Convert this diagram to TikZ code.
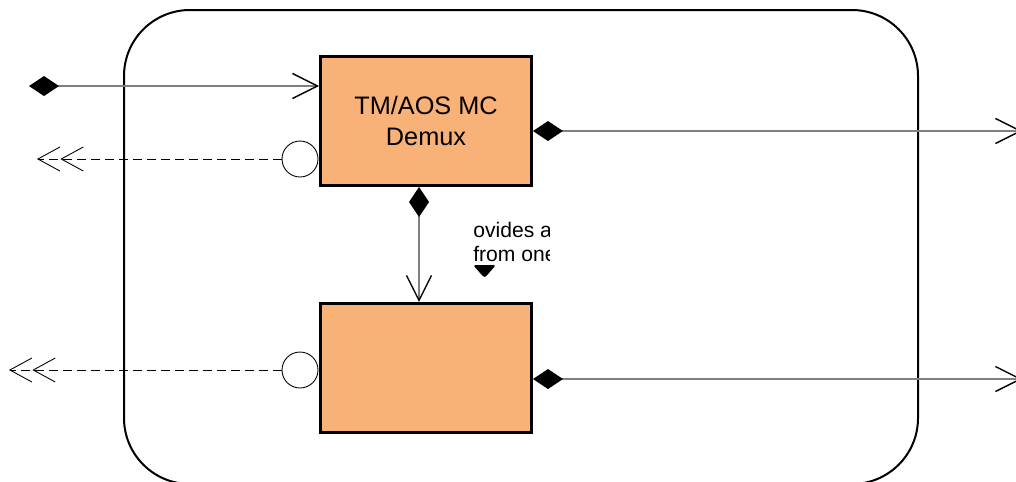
\documentclass[tikz,border=0pt]{standalone}
\usepackage{fontspec}
\setmainfont{Liberation Sans}
\usetikzlibrary{positioning, arrows.meta}

\definecolor{blockfill}{RGB}{248,178,120}
\tikzset{
  block/.style={draw, line width=0.06cm, fill=blockfill, minimum width=4.22cm,
    minimum height=2.58cm, align=center, font=\fontsize{14.4}{18}\selectfont},
  port/.style={draw, fill=white, circle, minimum size=0.72cm, inner sep=0pt, line width=0.5pt},
  note/.style={anchor=west, align=left, inner sep=0pt, font=\fontsize{12}{13.5}\selectfont},
  link/.style={draw=gray, line width=0.8pt,
    {Diamond[black,length=0.6cm,width=0.4cm]}-{Straight Barb[black,length=0.5cm,width=0.5cm]}},
  back/.style={dash pattern=on 0.18cm off 0.1cm, line width=0.5pt,
    -{Straight Barb[length=0.44cm,width=0.48cm,sep=0pt]Straight Barb[length=0.44cm,width=0.48cm]}}
}

\begin{document}
\begin{tikzpicture}[x=0.02cm, y=-0.02cm]
  \useasboundingbox (0,0) rectangle (1016,481);
  \clip (0,0) rectangle (1016,481);
  % outer component
  \draw[line width=0.04cm, rounded corners=1.32cm] (124,10) rectangle (918,484);
  \foreach \p/\y in {pa/159, pb/370}{%
    \node[port] (\p) at (300,\y) {};
  }
  \node[block] (demux) at (426,121) {TM/AOS MC\\Demux};
  \node[block, below=2.3cm of demux] (lower) {};
  % cut off note
  \begin{scope}
    \clip (468,212) rectangle (549,264);
    \node[note] (txt) at (473,242) {ovides a\\from one};
  \end{scope}
  \fill[rounded corners=1.5pt] (473,265) -- (496,265) -- (484.5,278) -- cycle;
  \coordinate (inA) at (29,86);
  \coordinate (outA) at (1022,131);
  \coordinate (outB) at (1022,379);
  \coordinate (mid) at (419,0);
  \coordinate (backA) at (37,159);
  \coordinate (backB) at (9,370);
  \draw[link] (inA) -- (inA -| demux.west);
  \draw[link] (outA -| demux.east) -- (outA);
  \draw[link] (outB -| lower.east) -- (outB);
  \draw[link] (mid |- demux.south) -- (mid |- lower.north);
  \draw[back] (pa) -- (backA);
  \draw[back] (pb) -- (backB);
\end{tikzpicture}
\end{document}
